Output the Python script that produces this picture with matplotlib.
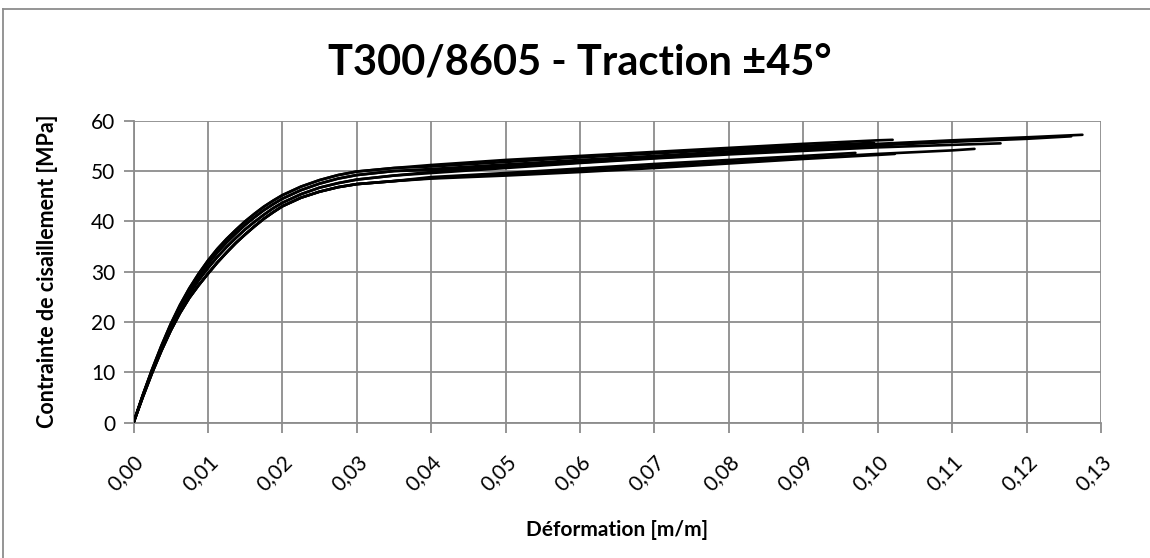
import matplotlib
matplotlib.use("Agg")
from matplotlib import pyplot as plt
from matplotlib.lines import Line2D
from matplotlib.ticker import MultipleLocator, FuncFormatter

plt.rcParams['font.family'] = ['Lato', 'DejaVu Sans']

# strain [m/m] grid for the knee of the curves
x_knee = [0, 0.00125, 0.0025, 0.00375, 0.005, 0.00625, 0.0075, 0.00875, 0.01,
          0.01125, 0.0125, 0.01375, 0.015, 0.01625, 0.0175, 0.01875, 0.02,
          0.0225, 0.025, 0.0275, 0.03, 0.035]
x_mid = [0.04, 0.05, 0.06, 0.07, 0.08, 0.09]

# shear stress [MPa] in the knee, four shapes (upper .. lower)
knee_a = [0, 5.5, 10.6, 15.3, 19.6, 23.4, 26.7, 29.6, 32.2, 34.5, 36.5, 38.3, 40.0,
          41.5, 42.9, 44.1, 45.2, 46.9, 48.2, 49.2, 49.9, 50.6]
knee_b = [0, 5.4, 10.4, 15.0, 19.3, 23.0, 26.2, 29.0, 31.5, 33.8, 35.8, 37.6, 39.3,
          40.8, 42.2, 43.4, 44.5, 46.2, 47.5, 48.5, 49.2, 50.0]
knee_c = [0, 5.3, 10.2, 14.7, 18.9, 22.5, 25.6, 28.3, 30.7, 32.9, 34.9, 36.7, 38.4,
          39.9, 41.3, 42.6, 43.7, 45.4, 46.7, 47.6, 48.3, 49.1]
knee_d = [0, 5.1, 9.9, 14.3, 18.3, 21.8, 24.8, 27.3, 29.6, 31.8, 33.8, 35.7, 37.4,
          39.0, 40.5, 41.8, 43.0, 44.7, 45.9, 46.8, 47.4, 48.0]

# specimens: strain and stress after the knee
s1_x = x_mid + [0.10, 0.11, 0.12, 0.1275]
s1_y = [50.4, 51.3, 52.2, 53.0, 53.9, 54.7, 55.4, 56.1, 56.7, 57.2]
s2_x = x_mid + [0.10, 0.11, 0.12, 0.126]
s2_y = [49.8, 50.8, 51.7, 52.6, 53.5, 54.3, 55.1, 55.8, 56.4, 56.9]
s3_x = x_mid + [0.10, 0.11, 0.1165]
s3_y = [49.6, 50.6, 51.6, 52.5, 53.3, 54.0, 54.7, 55.2, 55.5]
s4_x = x_mid + [0.10, 0.11, 0.113]
s4_y = [48.6, 49.4, 50.2, 51.0, 51.8, 52.6, 53.4, 54.1, 54.4]
s5_x = x_mid + [0.10, 0.1023]
s5_y = [48.5, 49.1, 49.8, 50.6, 51.5, 52.4, 53.2, 53.4]
s6_x = x_mid + [0.10, 0.102]
s6_y = [51.2, 52.2, 53.0, 53.8, 54.6, 55.4, 56.1, 56.2]
s7_x = x_mid + [0.0995]
s7_y = [50.9, 51.8, 52.7, 53.5, 54.3, 55.0, 55.6]
s8_x = x_mid + [0.097]
s8_y = [48.8, 49.6, 50.5, 51.4, 52.2, 53.0, 53.6]
s9_x = x_mid + [0.1005]
s9_y = [50.2, 51.0, 51.9, 52.7, 53.5, 54.3, 55.0]

specimens = [(knee_b, s1_x, s1_y), (knee_c, s2_x, s2_y), (knee_c, s3_x, s3_y),
             (knee_d, s4_x, s4_y), (knee_d, s5_x, s5_y), (knee_a, s6_x, s6_y),
             (knee_a, s7_x, s7_y), (knee_d, s8_x, s8_y), (knee_b, s9_x, s9_y)]

grid_color = '#8c8c8c'

fig = plt.figure(figsize=(11.5, 5.58), dpi=100)
ax = fig.add_axes([0.1161, 0.2425, 0.9574 - 0.1161, 0.7837 - 0.2425])

for knee, sx, sy in specimens:
	ax.plot(x_knee + sx, knee + sy, color='black', lw=1.9, zorder=3,
	        solid_joinstyle='round', solid_capstyle='round')

ax.set_xlim(0, 0.13)
ax.set_ylim(0, 60)
ax.xaxis.set_major_locator(MultipleLocator(0.01))
ax.yaxis.set_major_locator(MultipleLocator(10))
ax.xaxis.set_major_formatter(FuncFormatter(lambda v, p: f"{v:.2f}".replace('.', ',')))
ax.grid(True, color=grid_color, lw=1.3)
ax.set_axisbelow(True)
for side in ['top', 'right']:
	ax.spines[side].set_visible(False)
for side in ['left', 'bottom']:
	ax.spines[side].set_color(grid_color)
	ax.spines[side].set_linewidth(1.3)
ax.tick_params(axis='both', color=grid_color, width=1.3, length=7, labelsize=15)
ax.tick_params(axis='y', pad=6)
plt.setp(ax.get_xticklabels(), rotation=45, ha='right', va='top', rotation_mode='anchor')
ax.tick_params(axis='x', pad=14)

fig.text(580 / 1150, 1 - 75 / 558, "T300/8605 - Traction ±45°", fontsize=30,
         fontweight='bold', ha='center', va='baseline')
ax.set_xlabel("Déformation [m/m]", fontsize=15, fontweight='bold', labelpad=18)
ax.set_ylabel("Contrainte de cisaillement [MPa]", fontsize=15.5, fontweight='bold', labelpad=24)

# outer chart frame
fig.add_artist(Line2D([3 / 1150, 3 / 1150], [0, 1 - 9 / 558], color=grid_color, lw=1.3))
fig.add_artist(Line2D([3 / 1150, 1], [1 - 9 / 558, 1 - 9 / 558], color=grid_color, lw=1.3))

fig.savefig("out.png", dpi=100)
